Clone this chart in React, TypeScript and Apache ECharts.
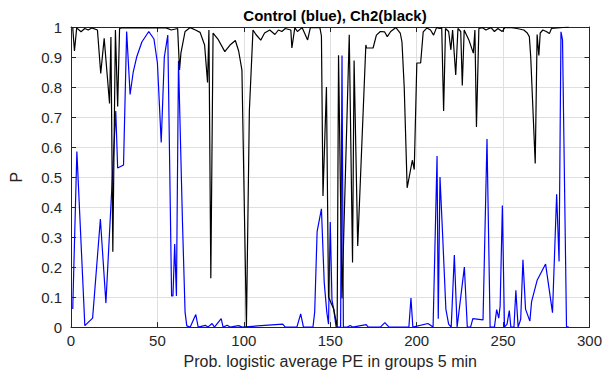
import React, { useEffect, useRef } from "react";
import * as echarts from "echarts";

const titleText = "Control (blue), Ch2(black)";
const xLabel = "Prob. logistic average PE in groups 5 min";
const yLabel = "P";

const controlX = [1, 3.4, 8, 12.5, 17, 20.2, 25.9, 27, 30.4, 32.2, 34.2, 36, 38, 41, 45, 48, 50, 52.2, 54, 56, 58.2, 59, 60, 61, 62.2, 64.5, 66, 67, 69, 72.2, 73.6, 77.7, 79.2, 81.6, 83, 86.9, 88, 90.4, 92, 97, 99, 122.5, 124, 130.7, 132.9, 134.5, 140, 141, 142.4, 144.9, 146.5, 148, 149, 150, 151, 152, 153.4, 156, 156.8, 157.6, 160, 161.5, 163, 170.8, 172, 179, 181.6, 184, 195.5, 196.7, 197.8, 206.5, 209.5, 211.8, 212.5, 213.5, 215, 216.9, 218.5, 220, 221.8, 223.4, 227.6, 229.3, 231.2, 232.5, 238.4, 240.7, 242.5, 245, 246.3, 247.5, 248.3, 249.6, 250.8, 252.3, 253.6, 254.5, 256.3, 257.4, 258.7, 260.2, 261.5, 263, 265.5, 266.5, 269.7, 274.6, 278.6, 281, 282.4, 283.5, 284.4, 286.7, 288];
const controlP = [0.06, 0.585, 0.005, 0.03, 0.36, 0.08, 0.72, 0.53, 0.54, 0.985, 0.775, 0.85, 0.9, 0.95, 0.985, 0.96, 0.88, 0.615, 0.9, 0.973, 0.104, 0.104, 0.277, 0.104, 0.887, 0.35, 0.05, 0.004, 0.0, 0.042, 0.0, 0.006, 0.0, 0.012, 0.0, 0.028, 0.0, 0.006, 0.0, 0.005, 0.0, 0.01, 0.0, 0.0, 0.044, 0.0, 0.0, 0.05, 0.318, 0.394, 0.15, 0.05, 0.01, 0.35, 0.09, 0.06, 0.0, 0.0, 0.905, 0.0, 0.0, 0.005, 0.0, 0.008, 0.0, 0.0, 0.015, 0.0, 0.0, 0.097, 0.0, 0.012, 0.0, 0.57, 0.028, 0.5, 0.31, 0.06, 0.01, 0.0, 0.24, 0.0, 0.2, 0.0, 0.0, 0.028, 0.024, 0.627, 0.0, 0.0, 0.058, 0.03, 0.07, 0.405, 0.0, 0.01, 0.055, 0.0, 0.0, 0.123, 0.0, 0.026, 0.224, 0.06, 0.02, 0.085, 0.156, 0.21, 0.048, 0.443, 0.219, 0.984, 0.957, 0.002, 0.0];

const ch2X = [1, 2, 3.3, 5.8, 8, 10, 12, 15.3, 17.2, 19.2, 22.3, 23.1, 24.2, 25.7, 27, 28.1, 30, 55, 58, 61.7, 62.8, 63.6, 66, 69, 72, 74.7, 77.3, 79, 79.8, 80.9, 82.2, 85, 89, 92, 95.1, 97, 98.9, 101.5, 103.2, 105.3, 107, 109.8, 112, 115, 118, 120, 122, 124, 127.2, 127.8, 129.5, 131, 133.7, 136.9, 138.5, 144, 144.9, 145.8, 147.8, 149, 152, 154, 154.8, 156.8, 161, 162.9, 163.8, 165.9, 170.6, 171, 174.8, 176.7, 179, 181.4, 183, 185, 188, 190.5, 191.5, 192.8, 194.5, 197.5, 198.6, 200.1, 202.3, 203.8, 206, 208, 209.8, 211.5, 213.5, 214.5, 215.6, 216.7, 218.5, 219.8, 220.8, 222.6, 223.9, 225.5, 226.4, 227.5, 230.2, 232.8, 233.7, 234.6, 236, 238, 240, 243, 245, 247, 249.5, 251, 255, 258, 262, 264, 265.2, 266, 268.6, 269.7, 270.7, 271.5, 273, 275, 276.8, 278, 288];
const ch2P = [0.998, 0.92, 0.997, 0.984, 0.995, 0.99, 0.997, 0.99, 0.845, 0.962, 0.745, 0.967, 0.251, 0.99, 0.735, 0.995, 0.998, 0.997, 0.99, 0.995, 0.857, 0.913, 0.985, 0.998, 0.99, 0.982, 0.94, 0.815, 0.99, 0.163, 0.98, 0.96, 0.918, 0.94, 0.955, 0.92, 0.856, 0.0, 0.72, 0.99, 0.975, 0.956, 0.98, 0.99, 0.975, 0.99, 0.985, 0.995, 0.99, 0.93, 0.998, 0.985, 0.998, 0.957, 0.998, 0.998, 0.97, 0.437, 0.8, 0.1, 0.06, 0.0, 0.906, 0.095, 0.974, 0.215, 0.888, 0.27, 0.94, 0.93, 0.93, 0.973, 0.985, 0.984, 0.968, 0.985, 0.998, 0.98, 0.95, 0.8, 0.464, 0.556, 0.525, 0.88, 0.88, 0.984, 0.997, 0.99, 0.973, 0.998, 0.995, 0.998, 0.72, 0.995, 0.985, 0.924, 0.99, 0.84, 0.995, 0.985, 0.805, 0.99, 0.957, 0.913, 0.99, 0.667, 0.995, 0.998, 0.99, 0.998, 0.985, 0.995, 0.985, 0.998, 0.998, 0.995, 0.99, 0.98, 0.968, 0.9, 0.545, 0.975, 0.905, 0.98, 0.99, 0.985, 0.978, 0.995, 1.0];

const xTicks = [0, 50, 100, 150, 200, 250, 300];
const yTicks = [0, 0.1, 0.2, 0.3, 0.4, 0.5, 0.6, 0.7, 0.8, 0.9, 1];

const FONT = "Liberation Sans, Arial, Helvetica, sans-serif";
const AX = "#262626";

export default function App() {
  const ref = useRef<HTMLDivElement>(null);
  useEffect(() => {
    if (!ref.current) return;
    const chart = echarts.init(ref.current, undefined, { renderer: "svg" });
    const xMin = xTicks[0];
    const xMax = xTicks[xTicks.length - 1];
    const xInt = xTicks[1] - xTicks[0];
    const yMin = yTicks[0];
    const yMax = yTicks[yTicks.length - 1];
    const baseX = {
      type: "value" as const,
      min: xMin,
      max: xMax,
      interval: xInt,
    };
    const baseY = {
      type: "value" as const,
      min: yMin,
      max: yMax,
      interval: 0.1,
    };
    chart.setOption({
      animation: false,
      backgroundColor: "#ffffff",
      title: {
        text: titleText,
        left: 330,
        textAlign: "center",
        top: 3,
        textStyle: { fontFamily: FONT, fontSize: 15, fontWeight: "bold", color: "#000" },
      },
      grid: { left: 67, right: 11, top: 27, bottom: 39, containLabel: false },
      xAxis: [
        {
          ...baseX,
          position: "bottom",
          name: xLabel,
          nameLocation: "middle",
          nameGap: 25,
          nameTextStyle: { fontFamily: FONT, fontSize: 16, color: AX },
          axisLine: { show: true, onZero: false, lineStyle: { color: AX, width: 1 } },
          axisTick: { show: true, inside: true, length: 5, lineStyle: { color: AX } },
          axisLabel: { fontFamily: FONT, fontSize: 15, color: AX, margin: 6 },
          splitLine: { show: true, lineStyle: { color: "#dfdfdf", width: 1 } },
        },
        {
          ...baseX,
          position: "top",
          axisLine: { show: true, onZero: false, lineStyle: { color: AX, width: 1 } },
          axisTick: { show: true, inside: true, length: 5, lineStyle: { color: AX } },
          axisLabel: { show: false },
          splitLine: { show: false },
        },
      ],
      yAxis: [
        {
          ...baseY,
          position: "left",
          name: yLabel,
          nameLocation: "middle",
          nameGap: 47,
          nameRotate: 90,
          nameTextStyle: { fontFamily: FONT, fontSize: 16, color: AX },
          axisLine: { show: true, onZero: false, lineStyle: { color: AX, width: 1 } },
          axisTick: { show: true, inside: true, length: 5, lineStyle: { color: AX } },
          axisLabel: {
            fontFamily: FONT,
            fontSize: 15,
            color: AX,
            margin: 9,
            formatter: (v: number) => String(Math.round(v * 10) / 10),
          },
          splitLine: { show: true, lineStyle: { color: "#dfdfdf", width: 1 } },
        },
        {
          ...baseY,
          position: "right",
          axisLine: { show: true, onZero: false, lineStyle: { color: AX, width: 1 } },
          axisTick: { show: true, inside: true, length: 5, lineStyle: { color: AX } },
          axisLabel: { show: false },
          splitLine: { show: false },
        },
      ],
      series: [
        {
          type: "line",
          name: "Control",
          data: controlX.map((x, i) => [x, controlP[i]]),
          showSymbol: false,
          symbol: "none",
          lineStyle: { color: "#0000ff", width: 1.2 },
          z: 3,
        },
        {
          type: "line",
          name: "Ch2",
          data: ch2X.map((x, i) => [x, ch2P[i]]),
          showSymbol: false,
          symbol: "none",
          lineStyle: { color: "#000000", width: 1.2 },
          z: 4,
        },
      ],
    });
    return () => chart.dispose();
  }, []);
  return (
    <div
      ref={ref}
      style={{ position: "fixed", left: 0, top: 0, width: 605, height: 374, background: "#fff" }}
    />
  );
}
